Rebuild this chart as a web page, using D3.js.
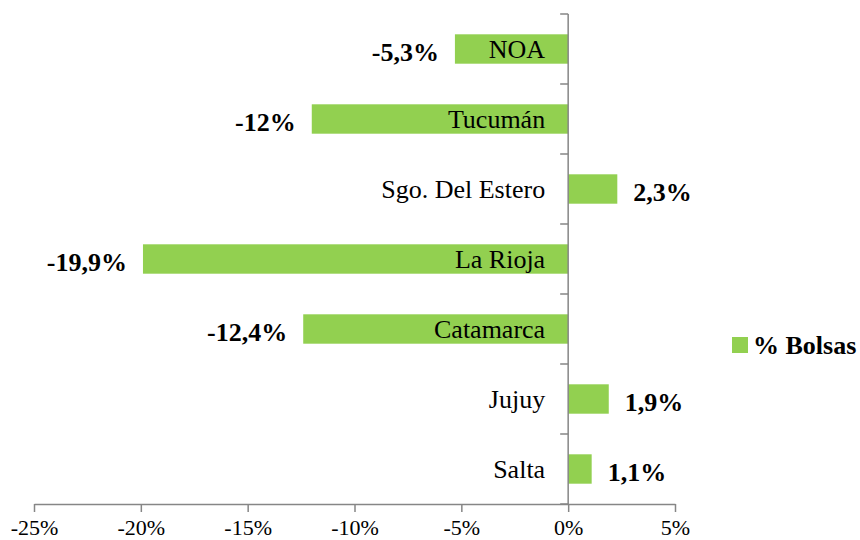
<!DOCTYPE html>
<html>
<head>
<meta charset="utf-8">
<script src="https://cdn.jsdelivr.net/npm/d3@7"></script>
<style>
  body { margin: 0; background: #fff; }
  text { font-family: "Liberation Serif", "Times New Roman", serif; }
</style>
</head>
<body>
<div id="chart"></div>
<script>
// Data
const regions = ["NOA", "Tucumán", "Sgo. Del Estero", "La Rioja", "Catamarca", "Jujuy", "Salta"];
const pctBolsas = [-5.3, -12, 2.3, -19.9, -12.4, 1.9, 1.1];
const valueLabels = ["-5,3%", "-12%", "2,3%", "-19,9%", "-12,4%", "1,9%", "1,1%"];
const xTicks = [-25, -20, -15, -10, -5, 0, 5];
const seriesName = "% Bolsas";

const width = 860, height = 540;
const barColor = "#92D050", axisColor = "#868686";

var svg = d3.select("#chart").append("svg")
  .attr("width", width)
  .attr("height", height);

var x = d3.scaleLinear().domain([-25, 5]).range([34, 675]);
var y = d3.scaleBand().domain(regions).range([14, 504]).paddingInner(0.58).paddingOuter(0.29);

// x axis
var xAxis = svg.append("g")
  .attr("transform", "translate(0,504)")
  .call(d3.axisBottom(x).tickValues(xTicks).tickSize(8).tickSizeOuter(0).tickFormat(d => d + "%"));
xAxis.select(".domain").attr("stroke", axisColor).attr("stroke-width", 1.5);
xAxis.selectAll(".tick line").attr("stroke", axisColor).attr("stroke-width", 1.5);
xAxis.selectAll(".tick text")
  .attr("font-family", "Liberation Serif")
  .attr("font-size", 22)
  .attr("fill", "#000")
  .attr("dy", "0.9em");

// bars
svg.append("g").selectAll("rect")
  .data(regions)
  .enter()
  .append("rect")
    .attr("x", (d, i) => x(Math.min(0, pctBolsas[i])))
    .attr("y", d => y(d))
    .attr("width", (d, i) => Math.abs(x(pctBolsas[i]) - x(0)))
    .attr("height", y.bandwidth())
    .attr("fill", barColor);

// y axis at zero, ticks on band edges
var edges = regions.map(d => y(d) - y.step() * y.paddingInner() / 2).concat([504]);
svg.append("line")
  .attr("x1", x(0)).attr("x2", x(0))
  .attr("y1", 14).attr("y2", 504)
  .attr("stroke", axisColor).attr("stroke-width", 1.5);
svg.append("g").selectAll("line")
  .data(edges)
  .enter()
  .append("line")
    .attr("x1", x(0) - 8).attr("x2", x(0))
    .attr("y1", d => d).attr("y2", d => d)
    .attr("stroke", axisColor).attr("stroke-width", 1.5);

// category labels
svg.append("g").selectAll("text")
  .data(regions)
  .enter()
  .append("text")
    .attr("x", x(0) - 23)
    .attr("y", d => y(d) + y.bandwidth() / 2)
    .attr("dy", "0.34em")
    .attr("text-anchor", "end")
    .attr("font-size", 26)
    .attr("fill", "#000")
    .text(d => d);

// value labels
svg.append("g").selectAll("text")
  .data(regions)
  .enter()
  .append("text")
    .attr("x", (d, i) => pctBolsas[i] < 0 ? x(pctBolsas[i]) - 16 : x(pctBolsas[i]) + 16)
    .attr("y", d => y(d) + y.bandwidth() / 2 + 3)
    .attr("dy", "0.34em")
    .attr("text-anchor", (d, i) => pctBolsas[i] < 0 ? "end" : "start")
    .attr("font-size", 26)
    .attr("font-weight", "bold")
    .attr("fill", "#000")
    .text((d, i) => valueLabels[i]);

// legend
var legend = svg.append("g").attr("transform", "translate(732,337)");
legend.append("rect").attr("width", 16).attr("height", 16).attr("fill", barColor);
legend.append("text")
  .attr("x", 21).attr("y", 8).attr("dy", "0.34em")
  .attr("font-size", 26)
  .attr("font-weight", "bold")
  .attr("fill", "#000")
  .text(seriesName);
</script>
</body>
</html>
